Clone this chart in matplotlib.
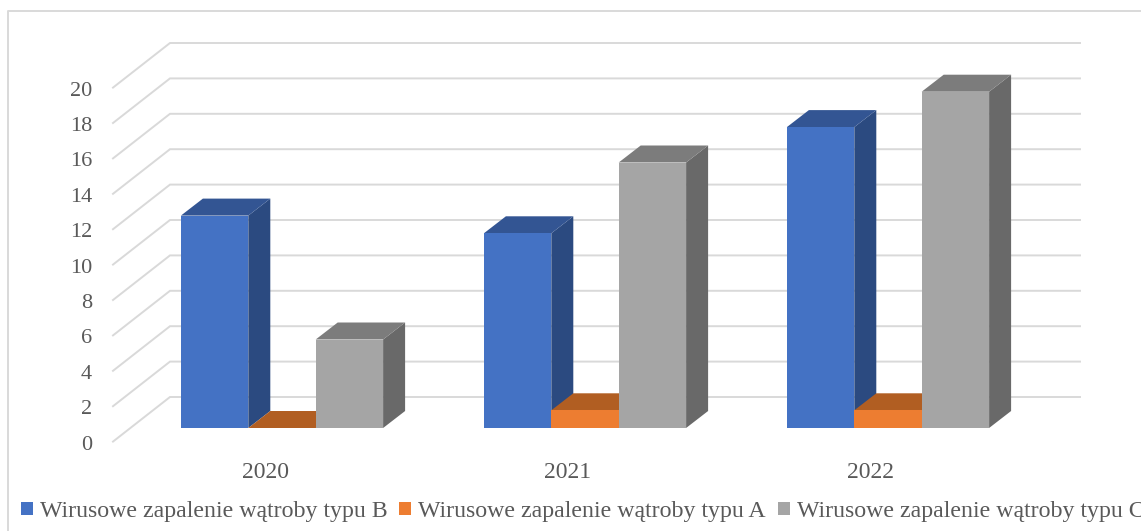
import numpy as np
from matplotlib import pyplot as plt
from matplotlib.patches import Patch, Polygon

plt.rcParams['font.family'] = ['Liberation Serif', 'DejaVu Serif']

years = ['2020', '2021', '2022']
series_names = ['Wirusowe zapalenie wątroby typu B',
                'Wirusowe zapalenie wątroby typu A',
                'Wirusowe zapalenie wątroby typu C']
typ_b = [12, 11, 17]
typ_a = [0, 1, 1]
typ_c = [5, 15, 19]
y_ticks = [0, 2, 4, 6, 8, 10, 12, 14, 16, 18, 20]

front_colors = ['#4472C4', '#ED7D31', '#A5A5A5']
top_colors = ['#335593', '#B15E22', '#7C7C7C']
side_colors = ['#2B4A80', '#2B4A80', '#696969']
grid_color = '#D9D9D9'
text_color = '#595959'

# pixel scale of the picture: one category = 303 px, one unit = 17.7 px
PX_X = 303.0
PX_Y = 17.7
X0 = 282.0
Y0 = 428.0


def to_x(px):
    return (px - X0) / PX_X


def to_y(px):
    return (Y0 - px) / PX_Y


fig = plt.figure(figsize=(11.41, 5.31), dpi=100)
ax = fig.add_axes([0, 0, 1, 1])
ax.set_xlim(to_x(0), to_x(1141))
ax.set_ylim(to_y(531), to_y(0))
ax.axis('off')

# chart frame, only left and top show in the crop
ax.plot([to_x(8), to_x(8), to_x(1141)], [to_y(531), to_y(11), to_y(11)],
        color=grid_color, lw=1.4, zorder=1)

# walls: gridlines run from the front floor to the back wall and then right
front_drop = 13.6 / PX_Y
back_rise = 31.0 / PX_Y
for v in y_ticks:
    ax.plot([to_x(113), to_x(170), to_x(1080)],
            [v - front_drop, v + back_rise, v + back_rise],
            color=grid_color, lw=1.4, zorder=1, solid_joinstyle='miter')
    ax.text(to_x(92), v - front_drop - 1 / PX_Y, str(v), ha='right', va='center_baseline',
            fontsize=16, color=text_color)

# bars, with the depth faces added as polygons
width = 67.4 / PX_X
dep_x = 22.0 / PX_X
dep_y = 17.0 / PX_Y
positions = np.arange(len(years))
z = 3
for i in positions:
    for j, values in enumerate([typ_b, typ_a, typ_c]):
        left = i + (j - 1.5) * width
        right = left + width
        h = values[i]
        ax.add_patch(Polygon([(right, 0), (right + dep_x, dep_y),
                              (right + dep_x, h + dep_y), (right, h)],
                             closed=True, facecolor=side_colors[j], edgecolor='none', zorder=z))
        ax.add_patch(Polygon([(left, h), (left + dep_x, h + dep_y),
                              (right + dep_x, h + dep_y), (right, h)],
                             closed=True, facecolor=top_colors[j], edgecolor='none', zorder=z))
        ax.bar(left, h, width=width, align='edge', color=front_colors[j], zorder=z)
        z += 1
    ax.text(i - 17 / PX_X, to_y(472), years[i], ha='center', va='center',
            fontsize=17, color=text_color)

handles = [Patch(facecolor=c, edgecolor='none') for c in front_colors]
leg = ax.legend(handles, series_names, ncol=3, loc='lower left',
                bbox_to_anchor=(21 / 1141, 1 - 522 / 531), frameon=False, borderpad=0,
                borderaxespad=0, fontsize=17.2, labelcolor=text_color,
                handlelength=0.5, handleheight=0.5, handletextpad=0.29,
                columnspacing=0.5)

plt.savefig('out.png', dpi=100)
